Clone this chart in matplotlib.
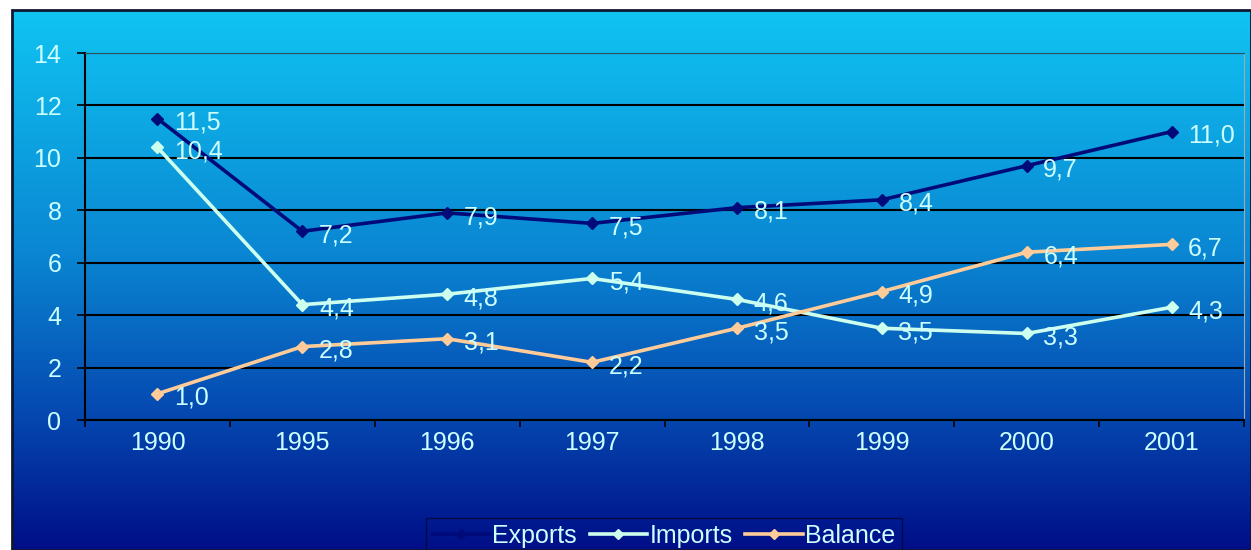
import matplotlib.pyplot as plt
import numpy as np
from matplotlib.colors import LinearSegmentedColormap
from matplotlib.patches import Rectangle

years = ['1990', '1995', '1996', '1997', '1998', '1999', '2000', '2001']
exports = [11.5, 7.2, 7.9, 7.5, 8.1, 8.4, 9.7, 11.0]
imports = [10.4, 4.4, 4.8, 5.4, 4.6, 3.5, 3.3, 4.3]
balance = [1.0, 2.8, 3.1, 2.2, 3.5, 4.9, 6.4, 6.7]

plt.rcParams['font.family'] = ['Liberation Sans', 'DejaVu Sans']
txt_col = '#CCFFFF'
fs = 18

W, H = 1251, 550
fig = plt.figure(figsize=(W / 100, H / 100), dpi=100)
fig.patch.set_facecolor('white')

# gradient backdrop, cyan at the top fading to navy
bg = fig.add_axes([12 / W, 0, 1 - 12 / W, 1 - 10 / H])
cmap = LinearSegmentedColormap.from_list(
    'bg', [(0, '#10C4F2'), (0.45, '#0A86D2'), (0.75, '#0548B0'), (1, '#000E88')])
grad = np.linspace(0, 1, 256).reshape(-1, 1)
bg.imshow(grad, aspect='auto', cmap=cmap, extent=[0, 1, 0, 1], origin='upper')
bg.set_xlim(0, 1)
bg.set_ylim(0, 1)
bg.axis('off')
bg.add_patch(Rectangle((0, 0), 1, 1, transform=bg.transAxes, fill=False,
                       edgecolor='#101830', linewidth=2, clip_on=False))

ax = fig.add_axes([85 / W, 1 - 420 / H, (1244 - 85) / W, (420 - 53) / H])
ax.set_facecolor('none')

x = np.arange(len(years))
series = [('Exports', exports, '#000A78'),
          ('Imports', imports, '#CCFFEE'),
          ('Balance', balance, '#FFCC99')]
for name, vals, col in series:
    ax.plot(x, vals, color=col, lw=2.6, marker='D', ms=6, label=name, zorder=3)
    for xi, v in zip(x, vals):
        ax.annotate(f'{v:.1f}'.replace('.', ','), (xi, v), xytext=(12, -3),
                    textcoords='offset points', ha='left', va='center',
                    color=txt_col, fontsize=fs, zorder=4)

ax.set_xlim(-0.5, len(years) - 0.5)
ax.set_ylim(0, 14)
ax.set_yticks(range(0, 15, 2))
ax.set_xticks(x)
ax.set_xticklabels(years)
ax.set_xticks(np.arange(-0.5, len(years), 1), minor=True)
ax.tick_params(axis='x', which='major', length=0, pad=8, labelcolor=txt_col, labelsize=fs)
ax.tick_params(axis='x', which='minor', length=5, width=1.2, color='black', direction='out')
ax.tick_params(axis='y', length=6, width=1.2, color='black', pad=11,
               labelcolor=txt_col, labelsize=fs)

ax.grid(axis='y', color='black', lw=1.5, zorder=1)
ax.spines['left'].set_color('black')
ax.spines['left'].set_linewidth(1.5)
ax.spines['bottom'].set_color('black')
ax.spines['bottom'].set_linewidth(1.5)
ax.spines['top'].set_color('#305060')
ax.spines['right'].set_color('#A0A8B0')

leg = ax.legend(loc='upper center', bbox_to_anchor=(664 / W, 1 - 505 / H),
                bbox_transform=fig.transFigure, ncol=3, frameon=True,
                fontsize=fs, handlelength=2.3, handletextpad=0.1,
                columnspacing=0.5, borderpad=0.25, markerscale=0.8,
                fancybox=False)
leg.get_frame().set_facecolor('none')
leg.get_frame().set_edgecolor('#000830')
leg.get_frame().set_linewidth(1.0)
for t in leg.get_texts():
    t.set_color(txt_col)

fig.savefig('out.png', dpi=100)
